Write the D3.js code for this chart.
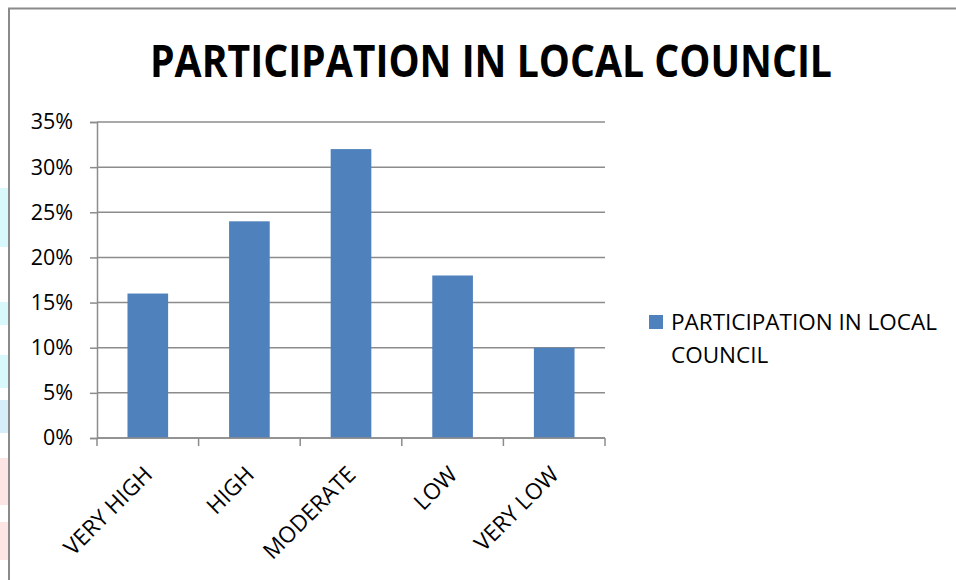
<!DOCTYPE html>
<html>
<head>
<meta charset="utf-8">
<script src="https://cdn.jsdelivr.net/npm/d3@7"></script>
<style>
  html, body { margin: 0; padding: 0; background: #fff; }
  svg { display: block; }
</style>
</head>
<body>
<svg id="chart" width="956" height="580"></svg>
<script>
// Survey results: share of respondents by level of participation
const categories = ["VERY HIGH", "HIGH", "MODERATE", "LOW", "VERY LOW"];
const values = [0.16, 0.24, 0.32, 0.18, 0.10];
const yTicks = [0, 0.05, 0.10, 0.15, 0.20, 0.25, 0.30, 0.35];
const seriesName = "PARTICIPATION IN LOCAL COUNCIL";
const legendLines = ["PARTICIPATION IN LOCAL", "COUNCIL"];

const FONT = "'Open Sans', 'Noto Sans', sans-serif";
const BAR = "#4f81bd";
const GRID = "#8c8c8c";

const svg = d3.select("#chart");

// faint colour strips along the left edge
const strips = [
  [188, 247, "#d9f8fb"], [302, 325, "#d9f8fb"], [355, 388, "#d9f8fb"],
  [400, 433, "#d6eef9"], [458, 505, "#fde5e5"], [522, 560, "#fde5e5"]
];
svg.selectAll("rect.strip").data(strips).join("rect")
  .attr("class", "strip")
  .attr("x", 0).attr("width", 8)
  .attr("y", d => d[0]).attr("height", d => d[1] - d[0])
  .attr("fill", d => d[2]);

// chart area frame
svg.append("rect")
  .attr("x", 9).attr("y", 8.5)
  .attr("width", 1000).attr("height", 700)
  .attr("fill", "#fff")
  .attr("stroke", "#8a8a8a").attr("stroke-width", 2);

// title
svg.append("text")
  .attr("x", 491).attr("y", 77)
  .attr("text-anchor", "middle")
  .attr("font-family", FONT).attr("font-weight", 700)
  .attr("font-size", 44)
  .attr("textLength", 682).attr("lengthAdjust", "spacingAndGlyphs")
  .attr("fill", "#000")
  .text(seriesName);

const plot = { left: 97, right: 605, top: 122, bottom: 438 };

const x = d3.scaleBand()
  .domain(categories)
  .range([plot.left, plot.right])
  .paddingInner(0.6)
  .paddingOuter(0.3);

const y = d3.scaleLinear()
  .domain([0, 0.35])
  .range([plot.bottom, plot.top]);

// horizontal gridlines
svg.append("g")
  .selectAll("line").data(yTicks).join("line")
  .attr("x1", plot.left).attr("x2", plot.right)
  .attr("y1", d => y(d)).attr("y2", d => y(d))
  .attr("stroke", GRID).attr("stroke-width", 1.5);

// y axis
const yAxis = d3.axisLeft(y)
  .tickValues(yTicks)
  .tickSize(7)
  .tickPadding(17)
  .tickFormat(d3.format(".0%"));

const gy = svg.append("g")
  .attr("transform", `translate(${plot.left},0)`)
  .call(yAxis);
gy.select(".domain").attr("stroke", GRID).attr("stroke-width", 1.5);
gy.selectAll(".tick line").attr("stroke", GRID).attr("stroke-width", 1.5);
gy.selectAll(".tick text")
  .attr("font-family", FONT).attr("font-size", 21.5)
  .attr("fill", "#000");

// bars
svg.append("g")
  .selectAll("rect").data(values).join("rect")
  .attr("x", (d, i) => x(categories[i]))
  .attr("width", x.bandwidth())
  .attr("y", d => y(d))
  .attr("height", d => y(0) - y(d))
  .attr("fill", BAR);

// x axis baseline with category separators
const step = x.step();
const bounds = d3.range(categories.length + 1).map(i => plot.left + i * step);
const gx = svg.append("g");
gx.append("line")
  .attr("x1", plot.left).attr("x2", plot.right)
  .attr("y1", plot.bottom).attr("y2", plot.bottom)
  .attr("stroke", GRID).attr("stroke-width", 1.5);
gx.selectAll("line.sep").data(bounds).join("line")
  .attr("class", "sep")
  .attr("x1", d => d).attr("x2", d => d)
  .attr("y1", plot.bottom).attr("y2", plot.bottom + 8)
  .attr("stroke", GRID).attr("stroke-width", 1.5);

// rotated category labels
gx.selectAll("text").data(categories).join("text")
  .attr("transform", d => `translate(${x(d) + x.bandwidth() / 2 + 6},${plot.bottom + 38}) rotate(-45)`)
  .attr("text-anchor", "end")
  .attr("font-family", FONT).attr("font-size", 22.5)
  .attr("fill", "#000")
  .text(d => d);

// legend
const lg = svg.append("g");
lg.append("rect")
  .attr("x", 649).attr("y", 315)
  .attr("width", 14).attr("height", 14)
  .attr("fill", BAR);
lg.selectAll("text").data(legendLines).join("text")
  .attr("x", 671)
  .attr("y", (d, i) => 330 + i * 33)
  .attr("font-family", FONT).attr("font-size", 22.5)
  .attr("fill", "#000")
  .text(d => d);
</script>
</body>
</html>
